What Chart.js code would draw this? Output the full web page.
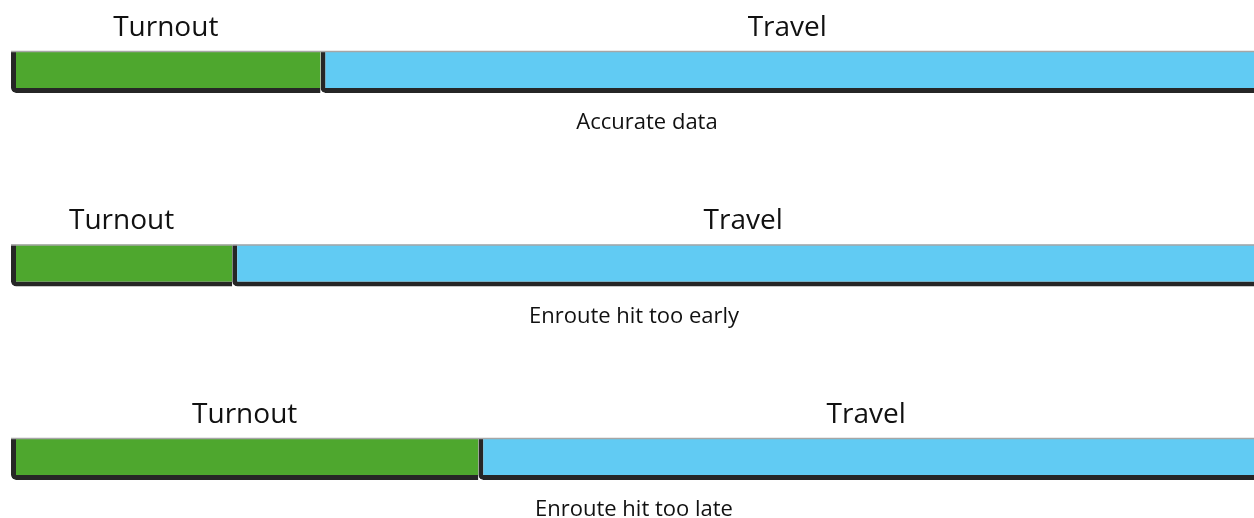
<!DOCTYPE html>
<html>
<head>
<meta charset="utf-8">
<script src="https://cdn.jsdelivr.net/npm/chart.js@4/dist/chart.umd.min.js"></script>
<style>
html,body{margin:0;padding:0;background:#fff;}
#wrap{width:1254px;height:518px;position:relative;}
</style>
</head>
<body>
<div id="wrap"><canvas id="c"></canvas></div>
<script>
const categories = ['Accurate data', 'Enroute hit too early', 'Enroute hit too late'];
const segmentNames = ['Turnout', 'Travel'];
const turnout = [24.9, 17.8, 37.6];
const travel = [75.1, 82.2, 62.4];

const captionX = [647, 634, 634];

const labelPlugin = {
  id: 'labels',
  afterDatasetsDraw(chart) {
    const ctx = chart.ctx;
    ctx.save();
    chart.data.datasets.forEach((ds, di) => {
      const meta = chart.getDatasetMeta(di);
      meta.data.forEach((bar, i) => {
        const left = Math.min(bar.x, bar.base);
        const right = Math.max(bar.x, bar.base);
        const top = bar.y - bar.height / 2;
        ctx.strokeStyle = '#a6a6a6';
        ctx.lineWidth = 1.5;
        ctx.beginPath();
        ctx.moveTo(left, top + 0.5);
        ctx.lineTo(right, top + 0.5);
        ctx.stroke();
        ctx.fillStyle = '#111';
        ctx.font = '28px "Open Sans"';
        ctx.textAlign = 'center';
        ctx.textBaseline = 'middle';
        ctx.fillText(ds.label, (left + right) / 2, bar.y - 44);
      });
    });
    const meta0 = chart.getDatasetMeta(0);
    meta0.data.forEach((bar, i) => {
      ctx.fillStyle = '#111';
      ctx.font = '22px "Open Sans"';
      ctx.textAlign = 'center';
      ctx.textBaseline = 'middle';
      ctx.fillText(categories[i], captionX[i], bar.y + 51);
    });
    ctx.restore();
  }
};

const barStyle = {
  borderColor: '#262626',
  borderWidth: {left: 5, bottom: 5, top: 0, right: 0},
  borderSkipped: false,
  borderRadius: {bottomLeft: 5, topLeft: 0, topRight: 0, bottomRight: 0},
  barThickness: 42,
  clip: false,
  inflateAmount: 0
};

new Chart(document.getElementById('c'), {
  type: 'bar',
  data: {
    labels: categories,
    datasets: [
      Object.assign({label: segmentNames[0], data: turnout, backgroundColor: '#4ea72e'}, barStyle),
      Object.assign({label: segmentNames[1], data: travel, backgroundColor: '#61cbf3'}, barStyle)
    ]
  },
  options: {
    indexAxis: 'y',
    responsive: true,
    maintainAspectRatio: false,
    animation: false,
    layout: {padding: {left: 11, right: 0, top: 72, bottom: 59}},
    plugins: {legend: {display: false}, tooltip: {enabled: false}},
    scales: {
      x: {stacked: true, min: 0, max: 100, display: false},
      y: {stacked: true, offset: false, display: false}
    }
  },
  plugins: [labelPlugin]
});
</script>
</body>
</html>
